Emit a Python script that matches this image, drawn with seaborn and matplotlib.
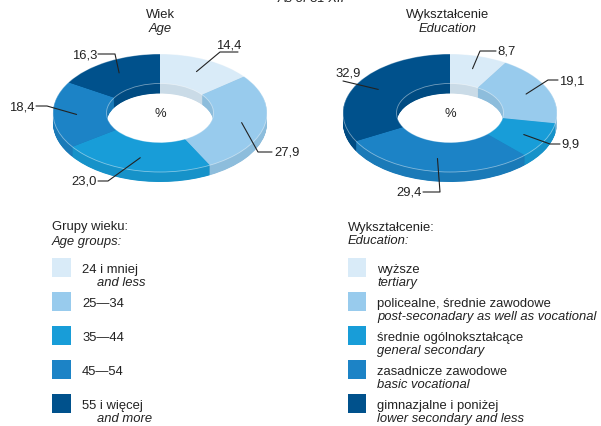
import numpy as np
import matplotlib
matplotlib.use("Agg")
import matplotlib.pyplot as plt
from matplotlib.patches import Ellipse, Rectangle
import seaborn as sns

sns.set_theme(style="white")
plt.rcParams['font.family'] = ['Liberation Sans', 'DejaVu Sans']

# data
age_values = [14.4, 27.9, 23.0, 18.4, 16.3]
age_labels_pl = ["24 i mniej", "25\u201434", "35\u201444", "45\u201454", "55 i więcej"]
age_labels_en = ["and less", "", "", "", "and more"]

edu_values = [8.7, 19.1, 9.9, 29.4, 32.9]
edu_labels_pl = ["wyższe", "policealne, średnie zawodowe", "średnie ogólnokształcące",
                 "zasadnicze zawodowe", "gimnazjalne i poniżej"]
edu_labels_en = ["tertiary", "post-seconadary as well as vocational", "general secondary",
                 "basic vocational", "lower secondary and less"]

palette = sns.color_palette(["#d9ebf8", "#98cbed", "#189dd8", "#1c83c6", "#00518c"])

W, H = 601, 427
fig = plt.figure(figsize=(W / 100, H / 100), dpi=100)

A, B = 107, 59          # ellipse semi-axes in pixels
DEPTH = 10 / B          # side thickness in data units
LIM = 1.6


def donut(cx, cy, values):
    ax = fig.add_axes([(cx - LIM * A) / W, (H - cy - LIM * B) / H, 2 * LIM * A / W, 2 * LIM * B / H])
    side = [tuple(np.array(c) * 0.93) for c in palette]
    for d in np.linspace(DEPTH, 0, 25):
        cols = palette if d == 0 else side
        ax.pie(values, colors=cols, startangle=90, counterclock=False, radius=1,
               center=(0, -d), wedgeprops=dict(width=0.5, edgecolor='none', linewidth=0))
    ax.add_patch(Ellipse((0, 0), 2, 2, fill=False, ec='white', lw=0.6, alpha=0.45))
    ax.add_patch(Ellipse((0, 0), 1, 1, fill=False, ec='white', lw=0.6, alpha=0.45))
    ax.set_aspect('auto')
    ax.set_xlim(-LIM, LIM)
    ax.set_ylim(-LIM, LIM)
    ax.axis('off')
    ax.text(0, 0, "%", ha='center', va='center', fontsize=fs, color=tc)
    return ax


def anchor(cx, cy, values, i, r=0.78):
    cum = np.cumsum([0] + list(values)) / sum(values)
    th = 2 * np.pi * (cum[i] + cum[i + 1]) / 2
    return cx + A * r * np.sin(th), cy - B * r * np.cos(th)


tc = '#222222'
fs = 9.4

donut(160, 114, age_values)
donut(450, 114, edu_values)

ov = fig.add_axes([0, 0, 1, 1], zorder=5)
ov.set_xlim(0, W)
ov.set_ylim(H, 0)
ov.axis('off')


def fmt(v):
    return f"{v:.1f}".replace('.', ',')


# (elbow, line end, text pos, ha, va)
age_lay = [((220, 53), (238, 53), (229, 52), 'center', 'bottom'),
           ((258, 153), (272, 153), (274, 153), 'left', 'center'),
           ((108, 182), (98, 182), (97, 182), 'right', 'center'),
           ((47, 107), (36, 107), (35, 107), 'right', 'center'),
           ((115, 55), (98, 55), (97, 55), 'right', 'center')]
edu_lay = [((480, 52), (496, 52), (497, 52), 'left', 'center'),
           ((548, 81), (558, 81), (559, 81), 'left', 'center'),
           ((550, 145), (560, 145), (561, 145), 'left', 'center'),
           ((440, 193), (423, 193), (422, 193), 'right', 'center'),
           ((343, 82), (343, 82), (348, 80), 'center', 'bottom')]

for cx, vals, lay in [(160, age_values, age_lay), (450, edu_values, edu_lay)]:
    for i, (v, (el, en, tp, ha, va)) in enumerate(zip(vals, lay)):
        ax_, ay_ = anchor(cx, 114, vals, i)
        ov.plot([ax_, el[0], en[0]], [ay_, el[1], en[1]], color='#222222', lw=0.8)
        ov.text(tp[0], tp[1], fmt(v), ha=ha, va=va, fontsize=fs, color=tc)

# titles
ov.text(311, -1, "As of 31 XII", ha='center', va='center', fontsize=fs, style='italic', color=tc)
ov.text(160, 15, "Wiek", ha='center', va='center', fontsize=fs, color=tc)
ov.text(160, 29, "Age", ha='center', va='center', fontsize=fs, style='italic', color=tc)
ov.text(448, 15, "Wykształcenie", ha='center', va='center', fontsize=fs, color=tc)
ov.text(448, 29, "Education", ha='center', va='center', fontsize=fs, style='italic', color=tc)

# legends
ov.text(52, 227, "Grupy wieku:", ha='left', va='center', fontsize=fs, color=tc)
ov.text(52, 242, "Age groups:", ha='left', va='center', fontsize=fs, style='italic', color=tc)
ov.text(348, 228, "Wykształcenie:", ha='left', va='center', fontsize=fs, color=tc)
ov.text(348, 241, "Education:", ha='left', va='center', fontsize=fs, style='italic', color=tc)

tops = [259, 293, 327, 361, 395]
for i, top in enumerate(tops):
    ov.add_patch(Rectangle((52, top), 19, 19, color=palette[i], lw=0))
    ov.text(82, top + 11, age_labels_pl[i], ha='left', va='center', fontsize=fs, color=tc)
    if age_labels_en[i]:
        ov.text(97, top + 24, age_labels_en[i], ha='left', va='center', fontsize=fs, style='italic', color=tc)
    ov.add_patch(Rectangle((348, top), 18, 19, color=palette[i], lw=0))
    ov.text(377, top + 11, edu_labels_pl[i], ha='left', va='center', fontsize=fs, color=tc)
    ov.text(377, top + 24, edu_labels_en[i], ha='left', va='center', fontsize=fs, style='italic', color=tc)

fig.savefig("out.png", dpi=100)
